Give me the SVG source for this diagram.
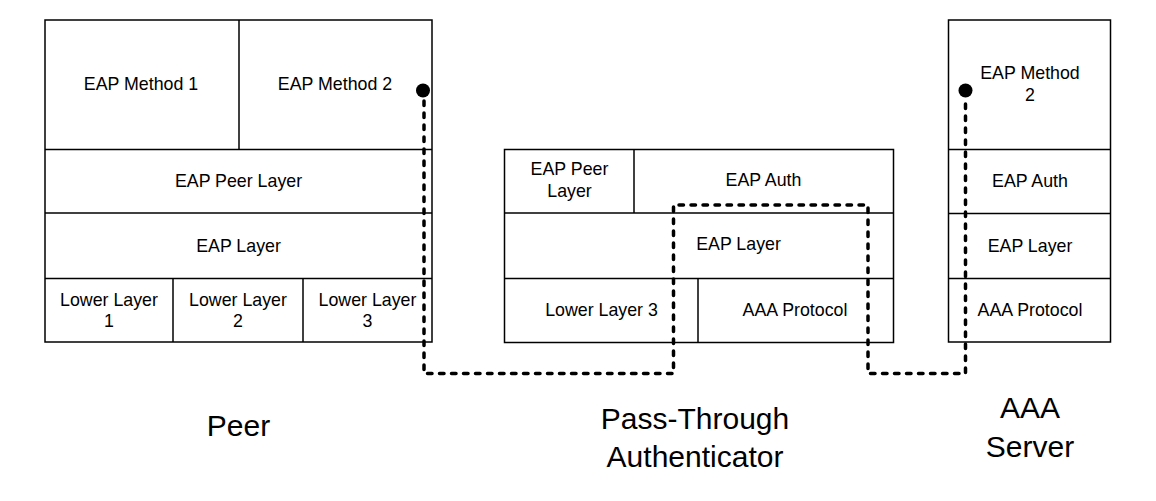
<svg xmlns="http://www.w3.org/2000/svg" width="1156" height="501" viewBox="0 0 1156 501">
<style>
.b{fill:#fff;stroke:#000;stroke-width:1.5}
.l{fill:none;stroke:#000;stroke-width:1.5}
.t{font-family:"Liberation Sans",Arial,sans-serif;font-size:17.8px;fill:#000;text-anchor:middle}
.big{font-family:"Liberation Sans",Arial,sans-serif;font-size:30px;fill:#000;text-anchor:middle}
.c{fill:none;stroke:#000;stroke-width:3.5;stroke-dasharray:4.5 7.5;stroke-linecap:round;stroke-linejoin:round}
</style>
<rect width="1156" height="501" fill="#fff"/>
<g id="peer">
<rect class="b" x="45" y="20" width="387" height="322"/>
<line class="l" x1="239" y1="20" x2="239" y2="149.5"/>
<line class="l" x1="45" y1="149.5" x2="432" y2="149.5"/>
<line class="l" x1="45" y1="213" x2="432" y2="213"/>
<line class="l" x1="45" y1="278.5" x2="432" y2="278.5"/>
<line class="l" x1="173" y1="278.5" x2="173" y2="342"/>
<line class="l" x1="303" y1="278.5" x2="303" y2="342"/>
<text class="t" x="141" y="90">EAP Method 1</text>
<text class="t" x="335" y="90">EAP Method 2</text>
<text class="t" x="238.5" y="187">EAP Peer Layer</text>
<text class="t" x="238.5" y="252">EAP Layer</text>
<text class="t" x="109" y="306">Lower Layer</text>
<text class="t" x="109" y="327">1</text>
<text class="t" x="238" y="306">Lower Layer</text>
<text class="t" x="238" y="327">2</text>
<text class="t" x="367.5" y="306">Lower Layer</text>
<text class="t" x="367.5" y="327">3</text>
<text class="big" x="238.5" y="436">Peer</text>
</g>
<g id="authenticator">
<rect class="b" x="504.5" y="149.5" width="389" height="193"/>
<line class="l" x1="504.5" y1="213" x2="893.5" y2="213"/>
<line class="l" x1="504.5" y1="278.5" x2="893.5" y2="278.5"/>
<line class="l" x1="634" y1="149.5" x2="634" y2="213"/>
<line class="l" x1="698" y1="278.5" x2="698" y2="342.5"/>
<text class="t" x="569.5" y="175">EAP Peer</text>
<text class="t" x="569.5" y="197">Layer</text>
<text class="t" x="763.5" y="186">EAP Auth</text>
<text class="t" x="738.5" y="250">EAP Layer</text>
<text class="t" x="601.5" y="316">Lower Layer 3</text>
<text class="t" x="795" y="316">AAA Protocol</text>
<text class="big" x="695" y="429">Pass-Through</text>
<text class="big" x="695" y="467">Authenticator</text>
</g>
<g id="server">
<rect class="b" x="948.5" y="20" width="162" height="322"/>
<line class="l" x1="948.5" y1="149.5" x2="1110.5" y2="149.5"/>
<line class="l" x1="948.5" y1="213.5" x2="1110.5" y2="213.5"/>
<line class="l" x1="948.5" y1="278.5" x2="1110.5" y2="278.5"/>
<text class="t" x="1030" y="78.5">EAP Method</text>
<text class="t" x="1030" y="100.5">2</text>
<text class="t" x="1030" y="187">EAP Auth</text>
<text class="t" x="1030" y="252">EAP Layer</text>
<text class="t" x="1030" y="316">AAA Protocol</text>
<text class="big" x="1030" y="418">AAA</text>
<text class="big" x="1030" y="457">Server</text>
</g>
<g id="connectors">
<path class="c" d="M424,101 L424,373.5 L673.5,373.5 L673.5,205 L868,205 L868,373.5 L965.5,373.5 L965.5,101"/>
<circle cx="423" cy="90.5" r="7" fill="#000"/>
<circle cx="965.5" cy="90.5" r="7" fill="#000"/>
</g>
</svg>
